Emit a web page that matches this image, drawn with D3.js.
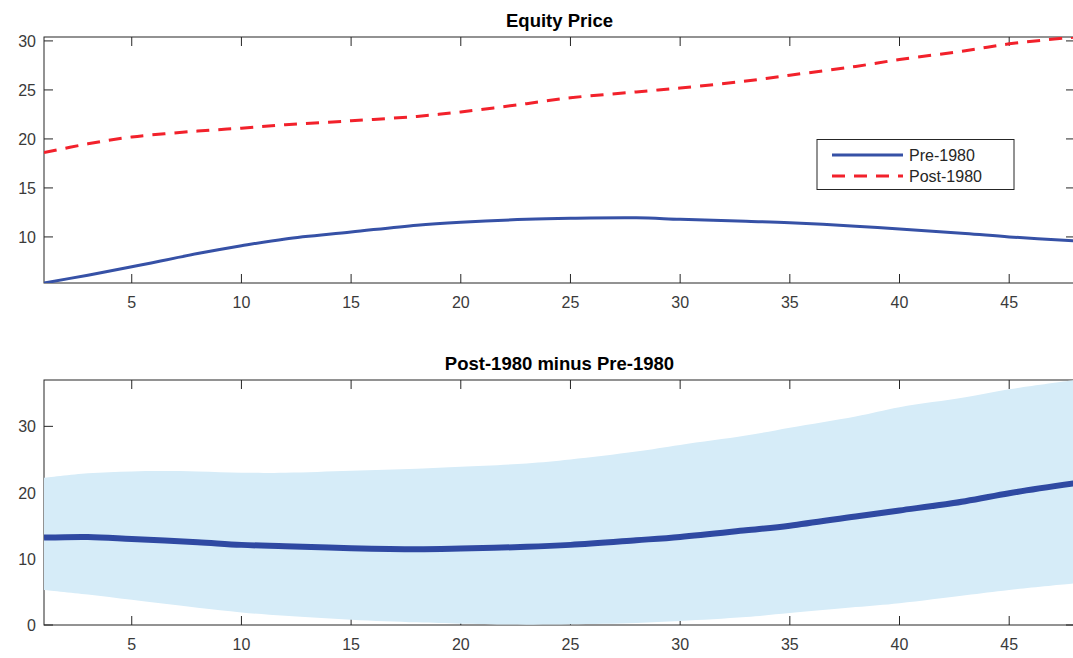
<!DOCTYPE html>
<html>
<head>
<meta charset="utf-8">
<script src="https://cdn.jsdelivr.net/npm/d3@7"></script>
<style>
  body { margin: 0; background: #fff; }
  svg { display: block; font-family: "Liberation Sans", Arial, Helvetica, sans-serif; }
</style>
</head>
<body>
<svg id="chart" width="1073" height="658"></svg>
<script>
// horizon (quarters) and the series
const horizon   = [1, 3, 5, 8, 10, 12, 15, 18, 20, 23, 25, 28, 30, 33, 35, 38, 40, 43, 45, 48];
const pre1980   = [5.3, 6.1, 6.95, 8.3, 9.1, 9.8, 10.5, 11.2, 11.5, 11.8, 11.9, 11.95, 11.8, 11.6, 11.45, 11.1, 10.8, 10.35, 10.0, 9.6];
const post1980  = [18.6, 19.5, 20.2, 20.8, 21.1, 21.45, 21.85, 22.3, 22.75, 23.6, 24.2, 24.8, 25.2, 25.9, 26.5, 27.4, 28.1, 29.0, 29.7, 30.4];
const diffMid   = [13.2, 13.3, 13.0, 12.5, 12.1, 11.9, 11.6, 11.45, 11.55, 11.8, 12.1, 12.8, 13.3, 14.3, 15.0, 16.4, 17.3, 18.7, 19.9, 21.4];
const diffUpper = [22.2, 22.9, 23.2, 23.2, 23.0, 23.0, 23.3, 23.6, 23.9, 24.4, 25.0, 26.2, 27.2, 28.6, 29.8, 31.5, 32.9, 34.4, 35.6, 37.0];
const diffLower = [5.3, 4.6, 3.8, 2.6, 1.9, 1.4, 0.8, 0.4, 0.2, 0.05, 0.1, 0.3, 0.6, 1.2, 1.8, 2.7, 3.3, 4.5, 5.3, 6.3];

const xTicks = [5, 10, 15, 20, 25, 30, 35, 40, 45];
const topYTicks = [10, 15, 20, 25, 30];
const botYTicks = [0, 10, 20, 30];
const legendLabels = ["Pre-1980", "Post-1980"];

const blue = "#3651a6", darkBlue = "#2f49a2", red = "#f2212b", band = "#d6ecf8";
const axisColor = "#262626", labelColor = "#3a3a3a";

const svg = d3.select("#chart");
const left = 44, right = 1075;
const curve = d3.curveCatmullRom.alpha(0.5);

const x = d3.scaleLinear().domain([1, 48]).range([left, right]);

// axes box with inward ticks on all four sides (MATLAB style)
function drawAxes(g, y, yTicks, top, bottom, id) {
  const tl = 9;
  g.append("rect")
    .attr("x", left).attr("y", top)
    .attr("width", right - left).attr("height", bottom - top)
    .attr("fill", "none").attr("stroke", axisColor).attr("stroke-width", 1);
  xTicks.forEach((t) => {
    const px = x(t);
    g.append("line").attr("x1", px).attr("x2", px).attr("y1", bottom).attr("y2", bottom - tl)
      .attr("stroke", axisColor);
    g.append("line").attr("x1", px).attr("x2", px).attr("y1", top).attr("y2", top + tl)
      .attr("stroke", axisColor);
    g.append("text").attr("x", px).attr("y", bottom + 25)
      .attr("text-anchor", "middle").attr("font-size", 16).attr("fill", labelColor)
      .text(t);
  });
  yTicks.forEach((t) => {
    const py = y(t);
    g.append("line").attr("x1", left).attr("x2", left + tl).attr("y1", py).attr("y2", py)
      .attr("stroke", axisColor);
    g.append("line").attr("x1", right).attr("x2", right - tl).attr("y1", py).attr("y2", py)
      .attr("stroke", axisColor);
    g.append("text").attr("x", left - 8).attr("y", py + 6)
      .attr("text-anchor", "end").attr("font-size", 16).attr("fill", labelColor)
      .text(t);
  });
  svg.append("clipPath").attr("id", id)
    .append("rect").attr("x", left).attr("y", top)
    .attr("width", right - left).attr("height", bottom - top);
}

function title(text, cy) {
  svg.append("text").attr("x", (left + right) / 2).attr("y", cy)
    .attr("text-anchor", "middle").attr("font-size", 18.5).attr("font-weight", "bold")
    .attr("fill", "#000").text(text);
}

// ---- top panel: Equity Price
const y1 = d3.scaleLinear().domain([5.3, 30.4]).range([283, 37]);
const g1 = svg.append("g");
drawAxes(g1, y1, topYTicks, 37, 283, "clip1");
title("Equity Price", 27);

const line1 = (vals) => d3.line()
  .x((d, i) => x(horizon[i])).y((d) => y1(d))
  .curve(curve)(vals);

const d1 = g1.append("g").attr("clip-path", "url(#clip1)");
d1.append("path").attr("d", line1(pre1980))
  .attr("fill", "none").attr("stroke", blue).attr("stroke-width", 3);
d1.append("path").attr("d", line1(post1980))
  .attr("fill", "none").attr("stroke", red).attr("stroke-width", 3)
  .attr("stroke-dasharray", "13,9");

// legend
const lg = g1.append("g");
lg.append("rect").attr("x", 817).attr("y", 139.5).attr("width", 197).attr("height", 50)
  .attr("fill", "#fff").attr("stroke", axisColor).attr("stroke-width", 1);
legendLabels.forEach((lab, i) => {
  const ly = 155 + i * 21;
  lg.append("line").attr("x1", 832).attr("x2", 903).attr("y1", ly).attr("y2", ly)
    .attr("stroke", i === 0 ? blue : red).attr("stroke-width", 3)
    .attr("stroke-dasharray", i === 0 ? null : "13,9");
  lg.append("text").attr("x", 909).attr("y", ly + 6)
    .attr("font-size", 16).attr("fill", axisColor).text(lab);
});

// ---- bottom panel: difference with band
const y2 = d3.scaleLinear().domain([0, 37]).range([625, 380]);
const g2 = svg.append("g");
drawAxes(g2, y2, botYTicks, 380, 625, "clip2");
title("Post-1980 minus Pre-1980", 370);

const d2 = g2.append("g").attr("clip-path", "url(#clip2)");
d2.append("path")
  .attr("d", d3.area()
    .x((d, i) => x(horizon[i]))
    .y0((d, i) => y2(diffLower[i]))
    .y1((d) => y2(d))
    .curve(curve)(diffUpper))
  .attr("fill", band);
d2.append("path")
  .attr("d", d3.line().x((d, i) => x(horizon[i])).y((d) => y2(d))
    .curve(curve)(diffMid))
  .attr("fill", "none").attr("stroke", darkBlue).attr("stroke-width", 6);
</script>
</body>
</html>
